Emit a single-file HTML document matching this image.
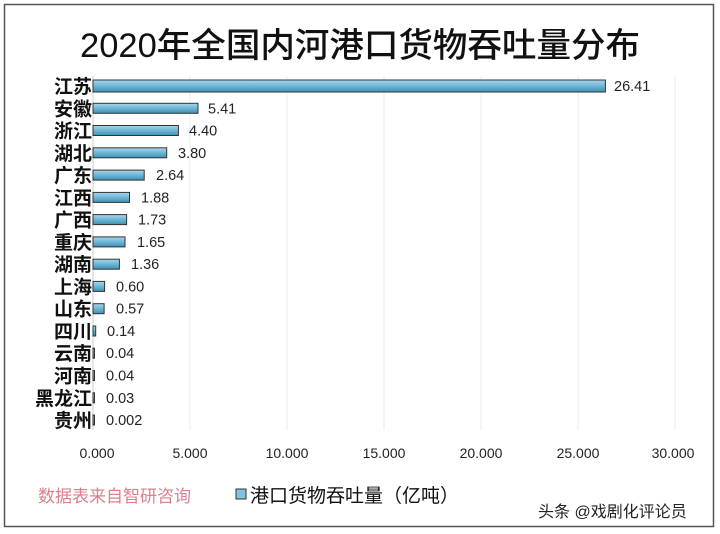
<!DOCTYPE html>
<html><head><meta charset="utf-8"><style>
html,body{margin:0;padding:0;background:#fff}
svg{display:block}
.lab{font-family:"Liberation Sans","Noto Sans CJK SC",sans-serif;font-weight:bold;font-size:19px;fill:#111}
.val{font-family:"Liberation Sans","Noto Sans CJK SC",sans-serif;font-size:14.5px;fill:#222}
.tick{font-family:"Liberation Sans",sans-serif;font-size:14px;fill:#222}
.b{fill:url(#g);stroke:#333;stroke-width:1}
</style></head><body>
<svg width="720" height="534" viewBox="0 0 720 534" xmlns="http://www.w3.org/2000/svg">
<defs>
<linearGradient id="g" x1="0" y1="0" x2="0" y2="1">
<stop offset="0" stop-color="#a9d6ea"/><stop offset="0.5" stop-color="#6db6d6"/><stop offset="1" stop-color="#3f8fb5"/>
</linearGradient>
</defs>
<rect x="4.5" y="4.5" width="709" height="522" fill="#fff" stroke="#555" stroke-width="1.5"/>
<text x="360" y="57" text-anchor="middle" textLength="560" lengthAdjust="spacingAndGlyphs" style="font-family:'Liberation Sans','Noto Sans CJK SC',sans-serif;font-size:34px;font-weight:500;fill:#111">2020年全国内河港口货物吞吐量分布</text>
<g stroke="#ebebeb" stroke-width="1">
<line x1="190" y1="76" x2="190" y2="430"/><line x1="287" y1="76" x2="287" y2="430"/><line x1="384" y1="76" x2="384" y2="430"/><line x1="481" y1="76" x2="481" y2="430"/><line x1="578" y1="76" x2="578" y2="430"/><line x1="675" y1="76" x2="675" y2="430"/>
</g>
<line x1="93" y1="76" x2="93" y2="430" stroke="#ccc"/>
<g>
<rect class="b" x="93" y="80" width="512.4" height="12"/>
<rect class="b" x="93" y="103.3" width="105" height="10"/>
<rect class="b" x="93" y="125.5" width="85.4" height="10"/>
<rect class="b" x="93" y="147.8" width="73.7" height="10"/>
<rect class="b" x="93" y="170.1" width="51.2" height="10"/>
<rect class="b" x="93" y="192.4" width="36.5" height="10"/>
<rect class="b" x="93" y="214.6" width="33.6" height="10"/>
<rect class="b" x="93" y="236.9" width="32" height="10"/>
<rect class="b" x="93" y="259.2" width="26.4" height="10"/>
<rect class="b" x="93" y="281.4" width="11.6" height="10"/>
<rect class="b" x="93" y="303.7" width="11.1" height="10"/>
<rect class="b" x="93" y="326" width="2.7" height="10"/>
<rect class="b" x="93" y="348.2" width="1.5" height="10"/>
<rect class="b" x="93" y="370.5" width="1.5" height="10"/>
<rect class="b" x="93" y="392.8" width="1.5" height="10"/>
<rect class="b" x="93" y="415" width="1.5" height="10"/>
</g>
<g class="lab" text-anchor="end">
<text x="92" y="93">江苏</text><text x="92" y="115.3">安徽</text><text x="92" y="137.5">浙江</text><text x="92" y="159.8">湖北</text><text x="92" y="182.1">广东</text><text x="92" y="204.4">江西</text><text x="92" y="226.6">广西</text><text x="92" y="248.9">重庆</text><text x="92" y="271.2">湖南</text><text x="92" y="293.4">上海</text><text x="92" y="315.7">山东</text><text x="92" y="338">四川</text><text x="92" y="360.2">云南</text><text x="92" y="382.5">河南</text><text x="92" y="404.8">黑龙江</text><text x="92" y="427">贵州</text>
</g>
<g class="val">
<text x="614" y="91">26.41</text><text x="208" y="113.3">5.41</text><text x="189" y="135.5">4.40</text><text x="178" y="157.8">3.80</text><text x="156" y="180.1">2.64</text><text x="141" y="202.4">1.88</text><text x="138" y="224.6">1.73</text><text x="137" y="246.9">1.65</text><text x="131" y="269.2">1.36</text><text x="116" y="291.4">0.60</text><text x="116" y="313.7">0.57</text><text x="107" y="336">0.14</text><text x="106" y="358.2">0.04</text><text x="106" y="380.5">0.04</text><text x="106" y="402.8">0.03</text><text x="106" y="425">0.002</text>
</g>
<g class="tick" text-anchor="middle">
<text x="97" y="458">0.000</text><text x="190" y="458">5.000</text><text x="287" y="458">10.000</text><text x="384" y="458">15.000</text><text x="481" y="458">20.000</text><text x="578" y="458">25.000</text><text x="673" y="458">30.000</text>
</g>
<text x="38" y="502" style="font-family:'Liberation Sans','Noto Sans CJK SC',sans-serif;font-size:17px;fill:#d9808c">数据表来自智研咨询</text>
<rect x="236" y="489" width="10" height="10" fill="#7fc3dc" stroke="#333" stroke-width="1"/>
<text x="250" y="502" style="font-family:'Liberation Sans','Noto Sans CJK SC',sans-serif;font-size:19px;fill:#111">港口货物吞吐量（亿吨）</text>
<text x="538" y="517" style="font-family:'Liberation Sans','Noto Sans CJK SC',sans-serif;font-size:16px;fill:#222">头条 @戏剧化评论员</text>
</svg>
</body></html>
